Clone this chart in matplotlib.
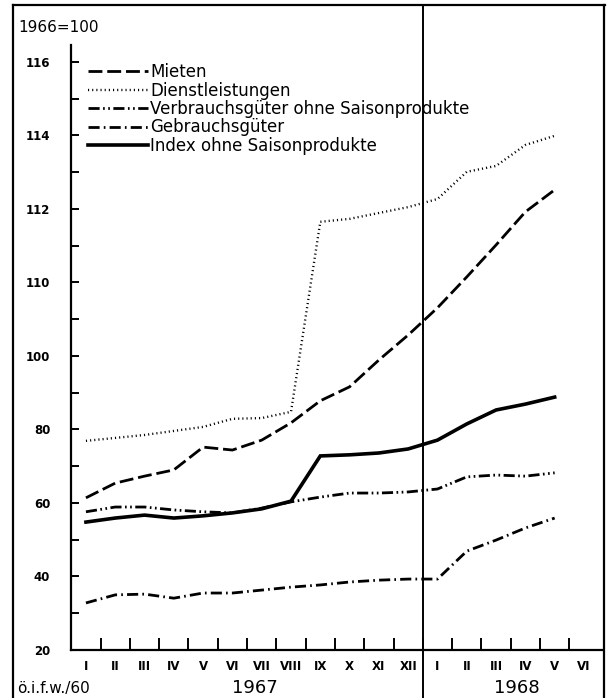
import matplotlib
matplotlib.use("Agg")
import matplotlib.pyplot as plt
from matplotlib.lines import Line2D
from matplotlib.transforms import blended_transform_factory

# ---------------- data ----------------
months = ["I", "II", "III", "IV", "V", "VI", "VII", "VIII", "IX", "X", "XI", "XII",
          "I", "II", "III", "IV", "V", "VI"]
years = ["1967", "1968"]

mieten = [104.14, 104.54, 104.73, 104.90, 105.52, 105.44, 105.71, 106.18, 106.78,
          107.16, 107.89, 108.57, 109.31, 110.15, 111.02, 111.92, 112.52]
dienstleistungen = [105.69, 105.77, 105.85, 105.96, 106.07, 106.29, 106.31, 106.48, 111.65,
                    111.73, 111.89, 112.05, 112.27, 113.01, 113.17, 113.74, 113.99]
verbrauchsgueter = [103.76, 103.89, 103.89, 103.81, 103.76, 103.73, 103.86, 104.03, 104.16,
                    104.27, 104.27, 104.30, 104.38, 104.71, 104.76, 104.73, 104.82]
gebrauchsgueter = [101.28, 101.50, 101.52, 101.41, 101.55, 101.55, 101.63, 101.71, 101.77,
                   101.85, 101.90, 101.93, 101.93, 102.69, 102.99, 103.32, 103.59]
index_ohne = [103.48, 103.59, 103.67, 103.59, 103.65, 103.73, 103.84, 104.05, 105.28,
              105.31, 105.36, 105.47, 105.71, 106.15, 106.53, 106.69, 106.88]

series_labels = ["Mieten", "Dienstleistungen", "Verbrauchsgüter ohne Saisonprodukte",
                 "Gebrauchsgüter", "Index ohne Saisonprodukte"]

y_ticks = [100, 102, 104, 106, 108, 110, 112, 114, 116]
y_tick_labels = ["20", "40", "60", "80", "100", "110", "112", "114", "116"]

# ---------------- figure ----------------
plt.rcParams['lines.scale_dashes'] = False
fig = plt.figure(figsize=(6.08, 6.98), dpi=100)
W, H = 608, 698
ax = fig.add_axes([71 / W, 48 / H, (603 - 71) / W, (650 - 45) / H])

x = list(range(len(mieten)))

l1, = ax.plot(x, mieten, color="black", lw=2.0, dashes=(10, 3.5))
l2, = ax.plot(x, dienstleistungen, color="black", lw=1.7, dashes=(0.8, 2.2))
l3, = ax.plot(x, verbrauchsgueter, color="black", lw=2.0,
              dashes=(8, 2.5, 1.2, 2.5, 1.2, 2.5))
l4, = ax.plot(x, gebrauchsgueter, color="black", lw=2.0, dashes=(8, 3, 1.2, 3))
l5, = ax.plot(x, index_ohne, color="black", lw=2.6, solid_joinstyle="miter")

ax.set_xlim(-0.51, 17.65)
ax.set_ylim(100, 116.46)

for s in ["top", "right"]:
    ax.spines[s].set_visible(False)
ax.spines["left"].set_linewidth(1.6)
ax.spines["bottom"].set_linewidth(1.6)

# y ticks
ax.set_yticks(y_ticks)
ax.set_yticklabels(y_tick_labels, fontsize=8.5, fontweight="bold")
ax.set_yticks([v + 1 for v in y_ticks[:-1]], minor=True)
ax.tick_params(axis="y", which="both", direction="in", length=6, width=1.4, pad=15)

# x ticks: labels at month centres, marks at month boundaries
ax.set_xticks(range(len(months)))
ax.set_xticklabels(months, fontsize=8.5, fontweight="bold")
ax.set_xticks([i + 0.5 for i in range(len(months) - 1)], minor=True)
ax.tick_params(axis="x", which="major", length=0, pad=7)
ax.tick_params(axis="x", which="minor", direction="in", length=9, width=1.4)

# legend
leg = ax.legend([l1, l2, l3, l4, l5], series_labels, loc="upper left",
                bbox_to_anchor=(88 / W, 1 - 63 / H), bbox_transform=fig.transFigure,
                frameon=False, fontsize=12, handlelength=3.6, handletextpad=0.12,
                labelspacing=0.03, borderpad=0, borderaxespad=0)

# frame and divider
lw_frame = 1.6
fig.add_artist(Line2D([13 / W, 13 / W], [0, 1 - 5 / H], color="black", lw=lw_frame,
                      transform=fig.transFigure))
fig.add_artist(Line2D([13 / W, 605 / W], [1 - 5 / H, 1 - 5 / H], color="black", lw=lw_frame,
                      transform=fig.transFigure))
fig.add_artist(Line2D([604 / W, 604 / W], [0, 1 - 5 / H], color="black", lw=lw_frame,
                      transform=fig.transFigure))
btr = blended_transform_factory(ax.transData, fig.transFigure)
fig.add_artist(Line2D([11.5, 11.5], [0, 1 - 5 / H], color="black", lw=1.4, transform=btr))

# texts
fig.text(18 / W, 1 - 27 / H, "1966=100", fontsize=11, va="center", ha="left")
fig.text(5.75, 1 - 688 / H, years[0], fontsize=13, va="center", ha="center",
         transform=btr)
fig.text(14.7, 1 - 688 / H, years[1], fontsize=13, va="center", ha="center",
         transform=btr)
fig.text(17 / W, 1 - 688 / H, "ö.i.f.w./60", fontsize=11, va="center", ha="left")

fig.savefig("out.png", dpi=100)
